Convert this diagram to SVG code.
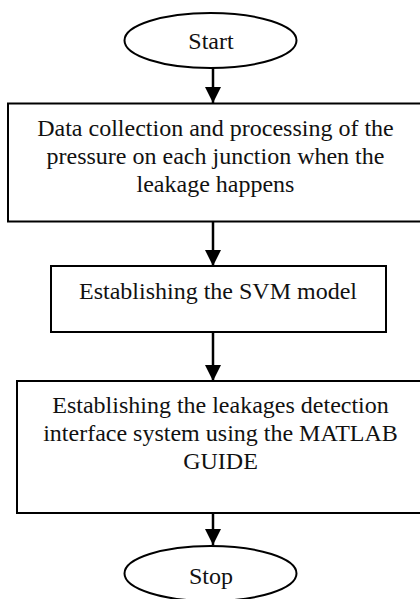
<svg xmlns="http://www.w3.org/2000/svg" width="420" height="599" viewBox="0 0 420 599">
<defs>
<style>
.sh{fill:#ffffff;stroke:#000;stroke-width:2}
.t{font-size:24px;fill:#111;text-anchor:middle}
.c{stroke:#000;stroke-width:2.5;fill:none}
</style>
<marker id="ah" viewBox="0 0 16 16" refX="16" refY="8" markerWidth="16" markerHeight="16" markerUnits="userSpaceOnUse" orient="auto">
<path d="M0,0 L16,8 L0,16 Z" fill="#000"/>
</marker>
</defs>
<rect width="420" height="599" fill="#fff"/>
<g font-family="'Liberation Serif', Tinos, 'Times New Roman', 'DejaVu Serif', serif">
<g id="start">
<ellipse class="sh" cx="210.5" cy="40.5" rx="86" ry="27.5"/>
<text class="t" x="211" y="49">Start</text>
</g>
<g id="collect">
<rect class="sh" x="8" y="103.5" width="416" height="118"/>
<text class="t" x="215.5" y="136">Data collection and processing of the</text>
<text class="t" x="215.5" y="164">pressure on each junction when the</text>
<text class="t" x="215.5" y="192">leakage happens</text>
</g>
<g id="svm">
<rect class="sh" x="51" y="266" width="335" height="66"/>
<text class="t" x="218" y="299">Establishing the SVM model</text>
</g>
<g id="gui">
<rect class="sh" x="17" y="381" width="407" height="132"/>
<text class="t" x="220.5" y="413">Establishing the leakages detection</text>
<text class="t" x="220.5" y="441">interface system using the MATLAB</text>
<text class="t" x="220.5" y="469">GUIDE</text>
</g>
<g id="stop">
<ellipse class="sh" cx="210.5" cy="573.5" rx="86" ry="27.5"/>
<text class="t" x="211" y="584">Stop</text>
</g>
</g>
<g id="connectors">
<line class="c" x1="213" y1="68" x2="213" y2="103" marker-end="url(#ah)"/>
<line class="c" x1="213" y1="222" x2="213" y2="266" marker-end="url(#ah)"/>
<line class="c" x1="213" y1="332" x2="213" y2="381" marker-end="url(#ah)"/>
<line class="c" x1="213" y1="513" x2="213" y2="545" marker-end="url(#ah)"/>
</g>
</svg>
